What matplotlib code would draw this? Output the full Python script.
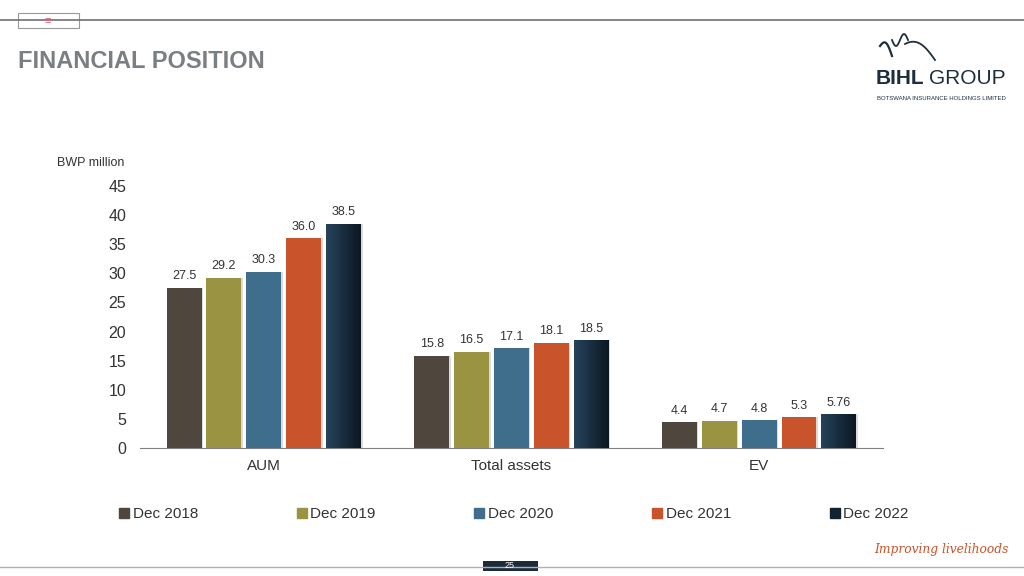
import numpy as np
import matplotlib.pyplot as plt
from matplotlib.patches import Rectangle
from matplotlib.lines import Line2D
from matplotlib.colors import LinearSegmentedColormap

plt.rcParams['font.family'] = ['Liberation Sans', 'DejaVu Sans']

# data
categories = ['AUM', 'Total assets', 'EV']
series = ['Dec 2018', 'Dec 2019', 'Dec 2020', 'Dec 2021', 'Dec 2022']
values = {
    'Dec 2018': [27.5, 15.8, 4.4],
    'Dec 2019': [29.2, 16.5, 4.7],
    'Dec 2020': [30.3, 17.1, 4.8],
    'Dec 2021': [36.0, 18.1, 5.3],
    'Dec 2022': [38.5, 18.5, 5.76],
}
labels = {
    'Dec 2018': ['27.5', '15.8', '4.4'],
    'Dec 2019': ['29.2', '16.5', '4.7'],
    'Dec 2020': ['30.3', '17.1', '4.8'],
    'Dec 2021': ['36.0', '18.1', '5.3'],
    'Dec 2022': ['38.5', '18.5', '5.76'],
}
colors = ['#4f463e', '#9a9442', '#3f6e8d', '#c9532a', '#1d3449']
yticks = [0, 5, 10, 15, 20, 25, 30, 35, 40, 45]

fig = plt.figure(figsize=(10.24, 5.76), dpi=100)
ax = fig.add_axes([0.1367, 0.2222, 0.7256, 0.4549])

x = np.arange(len(categories))
step = 0.161
width = 0.141
grad = np.linspace(0, 1, 64).reshape(1, -1)
gcmap = LinearSegmentedColormap.from_list('g', ['#26435c', '#0c1722'])
for i, s in enumerate(series):
    pos = x + (i - 2) * step
    # light shadow behind the bars
    ax.bar(pos + 0.006, values[s], width, color='#dcdcdc', zorder=1)
    bars = ax.bar(pos, values[s], width, color=colors[i], zorder=2)
    if s == 'Dec 2022':
        for b in bars:
            im = ax.imshow(grad, extent=[b.get_x(), b.get_x() + b.get_width(), 0, b.get_height()],
                           cmap=gcmap, aspect='auto', zorder=3)
            im.set_clip_path(b)
    for p, v, t in zip(pos, values[s], labels[s]):
        ax.annotate(t, (p, v), xytext=(0, 4), textcoords='offset points',
                    ha='center', va='bottom', fontsize=9, color='#333333')

ax.set_xlim(-0.5, 2.5)
ax.set_ylim(0, 45)
ax.set_yticks(yticks)
ax.set_xticks(x)
ax.set_xticklabels(categories)
for sp in ['top', 'right', 'left']:
    ax.spines[sp].set_visible(False)
ax.spines['bottom'].set_color('#808080')
ax.tick_params(axis='y', length=0, labelsize=11.5, colors='#333333', pad=10)
ax.tick_params(axis='x', length=0, labelsize=11, colors='#333333', pad=8)

fig.text(57 / 1024, 1 - 163 / 576, 'BWP million', fontsize=9, color='#333333', va='center')

# legend
handles = [Line2D([], [], marker='s', linestyle='', markersize=7, color=c) for c in colors]
handles[-1] = Line2D([], [], marker='s', linestyle='', markersize=7, color='#13222f')
fig.legend(handles, series, loc='center', bbox_to_anchor=(0.502, 1 - 514 / 576), ncol=5,
           frameon=False, fontsize=11, handlelength=0.6, handletextpad=0.25,
           columnspacing=6.5, labelcolor='#333333')

# header
fig.add_artist(Line2D([0, 1], [1 - 20 / 576] * 2, color='#707070', lw=1.2))
fig.add_artist(Rectangle((18 / 1024, 1 - 28 / 576), 61 / 1024, 15 / 576, facecolor='white',
                         edgecolor='#999999', lw=0.8))
fig.text(48 / 1024, 1 - 21 / 576, '≡', fontsize=8, color='#d06070', ha='center', va='center')
fig.text(18 / 1024, 1 - 62 / 576, 'FINANCIAL POSITION', fontsize=17, fontweight='bold',
         color='#7a7f83', va='center')

# logo
navy = '#1e2e3e'
t = np.linspace(0, 1, 60)
fig.add_artist(Line2D((880 + 12 * t) / 1024, 1 - (46 - 8 * np.sin(np.pi * t) + 10 * t) / 576,
                      color=navy, lw=1.6))
fig.add_artist(Line2D((892 + 16 * t) / 1024, 1 - (40 + 6 * np.sin(2 * np.pi * t)) / 576,
                      color=navy, lw=1.3))
fig.add_artist(Line2D((905 + 30 * t) / 1024, 1 - (44 + 16 * t ** 1.5 - 6 * np.sin(np.pi * t)) / 576,
                      color=navy, lw=1.3))
fig.text(876 / 1024, 1 - 79 / 576, 'BIHL', fontsize=15, fontweight='bold', color=navy,
         va='center')
fig.text(929 / 1024, 1 - 79 / 576, 'GROUP', fontsize=15, color=navy, va='center')
fig.text(941 / 1024, 1 - 98 / 576, 'BOTSWANA INSURANCE HOLDINGS LIMITED', fontsize=4.3,
         color=navy, ha='center', va='center')

# footer
fig.add_artist(Line2D([0, 1], [1 - 567 / 576] * 2, color='#b0b0b0', lw=1))
fig.add_artist(Rectangle((483 / 1024, 1 - 571 / 576), 55 / 1024, 10 / 576, facecolor='#1b2b3b',
                         edgecolor='none'))
fig.text(510 / 1024, 1 - 566 / 576, '25', fontsize=6.5, color='white', ha='center', va='center')
fig.text(941 / 1024, 1 - 550 / 576, 'Improving livelihoods', fontsize=8.8, style='italic',
         family='DejaVu Serif', color='#c9532a', ha='center', va='center')

fig.savefig('out.png', dpi=100)
